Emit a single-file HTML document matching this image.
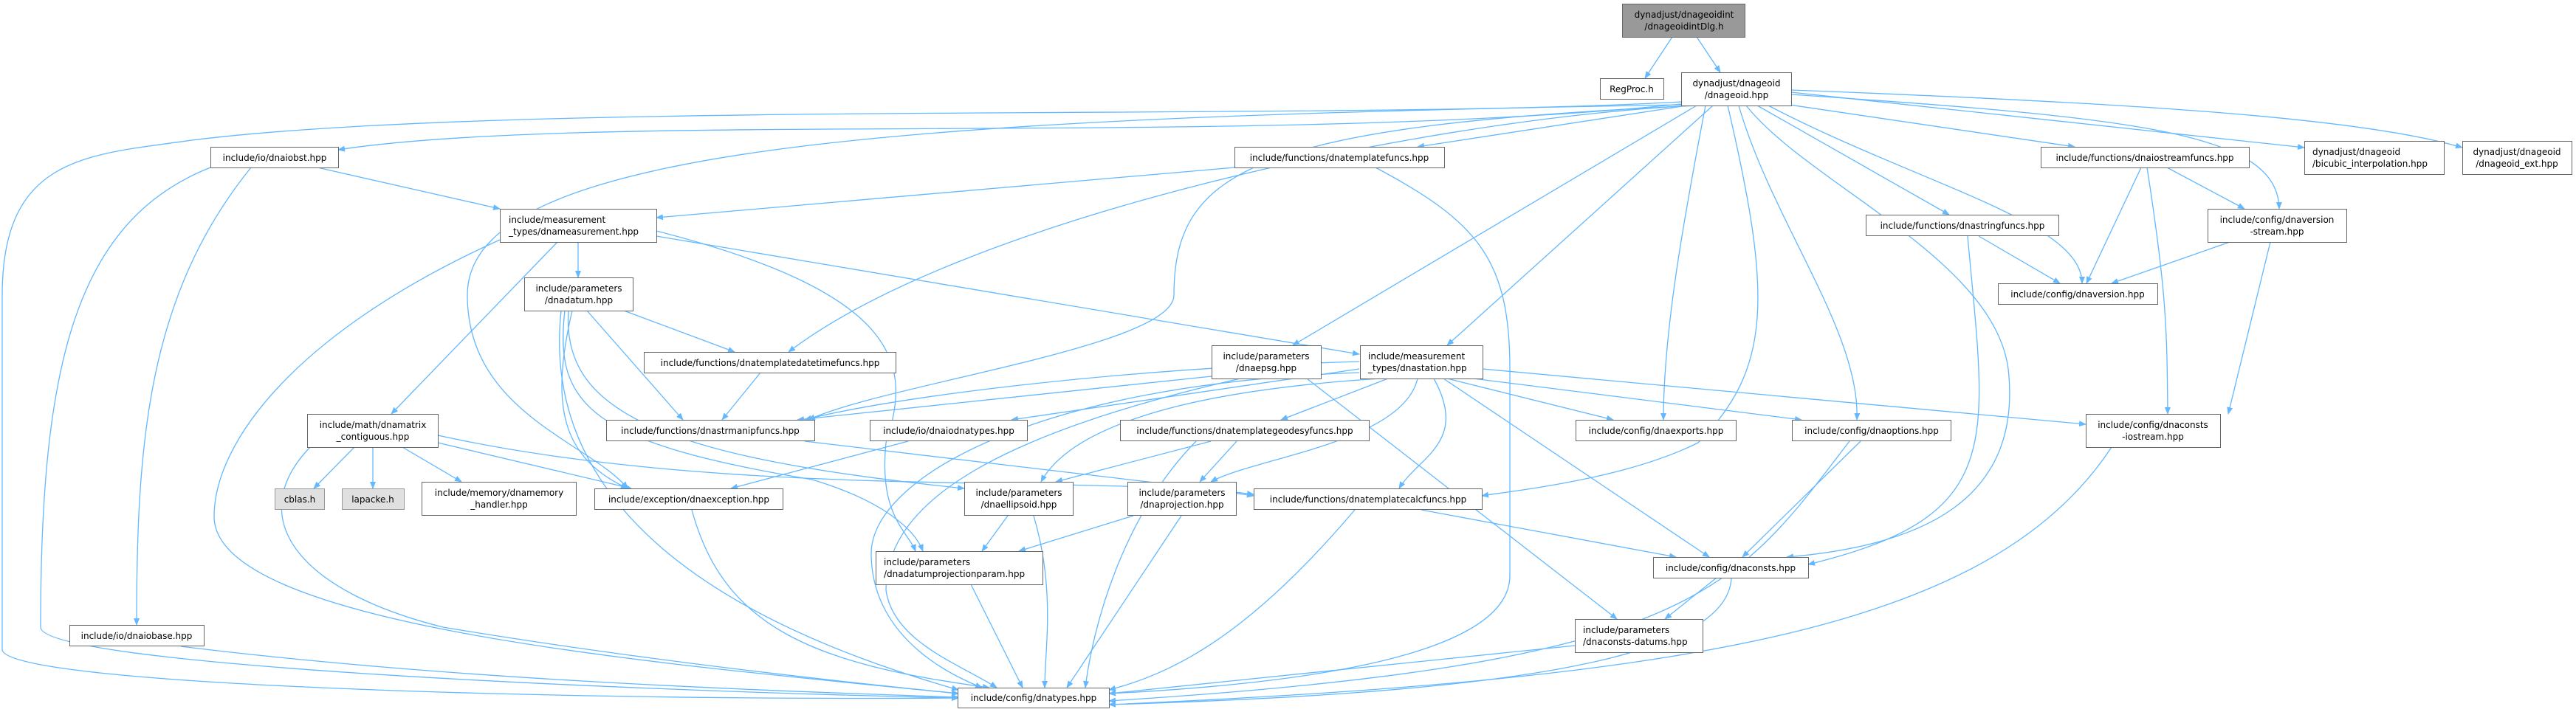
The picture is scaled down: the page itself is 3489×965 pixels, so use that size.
<!DOCTYPE html>
<html><head><meta charset="utf-8"><style>
html,body{margin:0;padding:0;background:#fff;}
svg{display:block;}
text{font-family:"DejaVu Sans","Liberation Sans",sans-serif;font-size:12px;fill:#000;}
.n{fill:#fff;stroke:#666;stroke-width:1;}
.g{fill:#999;stroke:#666;stroke-width:1;}
.x{fill:#e0e0e0;stroke:#999;stroke-width:1;}
path.e{fill:none;stroke:#63b8ff;stroke-width:1.3;marker-end:url(#a);}
</style></head><body>
<svg width="3489" height="965" viewBox="0 0 3489 965" xmlns="http://www.w3.org/2000/svg">
<defs><marker id="a" markerWidth="10" markerHeight="8" refX="9" refY="4" orient="auto" markerUnits="userSpaceOnUse"><path d="M0,0 L10,4 L0,8 z" fill="#63b8ff"/></marker></defs>
<g>
<path class="e" d="M2265,50 L2228,106"/>
<path class="e" d="M2298,50 L2330,98"/>
<path class="e" d="M2277,141 C1700,200 800,150 458,203"/>
<path class="e" d="M2277,138 C1800,165 700,135 260,190 C120,210 3,210 3,400 L3,880 C3,930 800,950 1298,946"/>
<path class="e" d="M2285,143 L1920,199"/>
<path class="e" d="M2290,143 C1900,165 1300,300 1068,477"/>
<path class="e" d="M2300,143 C1700,170 1590,230 1590,400 C1590,470 1200,520 1095,569"/>
<path class="e" d="M2298,143 L1751,468"/>
<path class="e" d="M2320,143 L1960,468"/>
<path class="e" d="M2277,142 C1200,160 633,200 633,400 C633,560 800,600 850,662"/>
<path class="e" d="M2310,143 C2280,300 2253,450 2253,569"/>
<path class="e" d="M2340,143 C2400,400 2400,500 2300,600 C2200,650 2050,665 2007,672"/>
<path class="e" d="M2355,143 C2400,300 2520,450 2515,569"/>
<path class="e" d="M2365,143 C2450,250 2700,350 2720,500 C2740,680 2600,740 2420,755"/>
<path class="e" d="M2380,143 L2640,291"/>
<path class="e" d="M2395,143 C2600,250 2820,300 2820,384"/>
<path class="e" d="M2410,140 L2810,199"/>
<path class="e" d="M2426,128 C2900,160 3085,180 3087,283"/>
<path class="e" d="M2426,125 L3121,200"/>
<path class="e" d="M2426,122 C2900,140 3200,160 3335,200"/>
<path class="e" d="M430,227 L677,283"/>
<path class="e" d="M340,227 C200,400 185,600 185,847"/>
<path class="e" d="M285,227 C100,300 55,500 55,850 C55,900 800,935 1298,946"/>
<path class="e" d="M1672,227 L889,295"/>
<path class="e" d="M1863,227 C2000,300 2045,350 2045,500 L2045,780 C2045,900 1700,930 1502,940"/>
<path class="e" d="M783,328 L783,376"/>
<path class="e" d="M755,328 L530,561"/>
<path class="e" d="M889,320 L1841,480"/>
<path class="e" d="M677,325 C400,450 290,600 290,700 C290,850 900,900 1298,940"/>
<path class="e" d="M889,313 C1230,400 1233,500 1200,600 C1190,700 1230,720 1240,747"/>
<path class="e" d="M845,421 L995,477"/>
<path class="e" d="M795,421 L925,569"/>
<path class="e" d="M775,421 C745,550 760,620 850,662"/>
<path class="e" d="M765,421 C750,550 800,600 1100,650 C1200,680 1240,720 1250,747"/>
<path class="e" d="M770,421 C760,560 900,620 1306,662"/>
<path class="e" d="M760,421 C730,700 1000,850 1298,935"/>
<path class="e" d="M1030,505 L978,569"/>
<path class="e" d="M480,606 L425,662"/>
<path class="e" d="M505,606 L505,662"/>
<path class="e" d="M545,606 L625,653"/>
<path class="e" d="M593,600 L855,662"/>
<path class="e" d="M593,590 C1000,680 1500,640 1698,672"/>
<path class="e" d="M420,606 C330,700 400,800 600,850 C900,900 1200,930 1298,940"/>
<path class="e" d="M1090,598 L1698,670"/>
<path class="e" d="M1230,598 L990,662"/>
<path class="e" d="M1641,510 L1080,569"/>
<path class="e" d="M1680,513 C1300,600 1200,700 1200,800 C1210,870 1300,900 1350,932"/>
<path class="e" d="M1770,513 L2190,839"/>
<path class="e" d="M1841,490 C1500,500 1200,540 1090,569"/>
<path class="e" d="M1841,500 L1370,569"/>
<path class="e" d="M1880,513 L1735,569"/>
<path class="e" d="M1870,513 C1600,530 1450,580 1410,653"/>
<path class="e" d="M1920,513 C1900,600 1700,620 1640,653"/>
<path class="e" d="M1942,513 C1990,600 1920,620 1895,662"/>
<path class="e" d="M1960,513 L2185,569"/>
<path class="e" d="M1995,513 L2440,569"/>
<path class="e" d="M2008,500 L2825,575"/>
<path class="e" d="M1955,513 L2315,755"/>
<path class="e" d="M1841,505 C1400,520 1180,650 1180,750 C1180,870 1300,920 1330,932"/>
<path class="e" d="M1640,598 L1430,653"/>
<path class="e" d="M1675,598 L1625,653"/>
<path class="e" d="M1620,598 C1520,700 1480,850 1470,932"/>
<path class="e" d="M1365,699 L1330,747"/>
<path class="e" d="M1400,699 C1430,800 1415,880 1415,932"/>
<path class="e" d="M1535,699 L1380,747"/>
<path class="e" d="M1600,699 L1445,932"/>
<path class="e" d="M1925,691 L2270,755"/>
<path class="e" d="M1835,691 C1700,850 1600,910 1502,935"/>
<path class="e" d="M1315,792 L1385,932"/>
<path class="e" d="M937,691 C980,850 1100,900 1340,932"/>
<path class="e" d="M245,876 C600,920 1000,935 1298,945"/>
<path class="e" d="M2325,783 L2255,839"/>
<path class="e" d="M2345,783 C2340,900 2000,940 1502,955"/>
<path class="e" d="M2133,875 L1502,940"/>
<path class="e" d="M2520,598 L2360,755"/>
<path class="e" d="M2505,598 C2350,800 2300,900 1502,950"/>
<path class="e" d="M2860,606 C2700,850 2300,920 1502,955"/>
<path class="e" d="M2900,227 L2826,384"/>
<path class="e" d="M2935,227 L3040,283"/>
<path class="e" d="M2908,227 C2935,400 2935,450 2936,561"/>
<path class="e" d="M3020,328 L2860,384"/>
<path class="e" d="M3075,328 L3018,561"/>
<path class="e" d="M2680,320 L2790,384"/>
<path class="e" d="M2665,320 C2690,600 2720,700 2449,765"/>
</g>
<g>
<rect class="g" x="2197.5" y="5.5" width="166" height="45"/><text x="2281" y="24" text-anchor="middle">dynadjust/dnageoidint</text><text x="2281" y="40" text-anchor="middle">/dnageoidintDlg.h</text>
<rect class="n" x="2167.5" y="106.5" width="86" height="28"/><text x="2210" y="125" text-anchor="middle">RegProc.h</text>
<rect class="n" x="2277.5" y="98.5" width="149" height="45"/><text x="2352" y="117" text-anchor="middle">dynadjust/dnageoid</text><text x="2352" y="133" text-anchor="middle">/dnageoid.hpp</text>
<rect class="n" x="285.5" y="199.5" width="173" height="28"/><text x="372" y="218" text-anchor="middle">include/io/dnaiobst.hpp</text>
<rect class="n" x="1672.5" y="199.5" width="284" height="28"/><text x="1814" y="218" text-anchor="middle">include/functions/dnatemplatefuncs.hpp</text>
<rect class="n" x="2764.5" y="199.5" width="282" height="28"/><text x="2905" y="218" text-anchor="middle">include/functions/dnaiostreamfuncs.hpp</text>
<rect class="n" x="3121.5" y="191.5" width="189" height="45"/><text x="3132" y="210">dynadjust/dnageoid</text><text x="3132" y="226">/bicubic_interpolation.hpp</text>
<rect class="n" x="3335.5" y="191.5" width="148" height="45"/><text x="3409" y="210" text-anchor="middle">dynadjust/dnageoid</text><text x="3409" y="226" text-anchor="middle">/dnageoid_ext.hpp</text>
<rect class="n" x="677.5" y="283.5" width="212" height="45"/><text x="689" y="302">include/measurement</text><text x="689" y="318">_types/dnameasurement.hpp</text>
<rect class="n" x="2527.5" y="291.5" width="261" height="28"/><text x="2658" y="310" text-anchor="middle">include/functions/dnastringfuncs.hpp</text>
<rect class="n" x="2990.5" y="283.5" width="188" height="45"/><text x="3084" y="302" text-anchor="middle">include/config/dnaversion</text><text x="3084" y="318" text-anchor="middle">-stream.hpp</text>
<rect class="n" x="710.5" y="376.5" width="147" height="45"/><text x="784" y="395" text-anchor="middle">include/parameters</text><text x="784" y="411" text-anchor="middle">/dnadatum.hpp</text>
<rect class="n" x="2706.5" y="384.5" width="216" height="28"/><text x="2814" y="403" text-anchor="middle">include/config/dnaversion.hpp</text>
<rect class="n" x="872.5" y="477.5" width="341" height="28"/><text x="1043" y="496" text-anchor="middle">include/functions/dnatemplatedatetimefuncs.hpp</text>
<rect class="n" x="1641.5" y="468.5" width="148" height="45"/><text x="1715" y="487" text-anchor="middle">include/parameters</text><text x="1715" y="503" text-anchor="middle">/dnaepsg.hpp</text>
<rect class="n" x="1842.5" y="468.5" width="166" height="45"/><text x="1853" y="487">include/measurement</text><text x="1853" y="503">_types/dnastation.hpp</text>
<rect class="n" x="416.5" y="561.5" width="177" height="45"/><text x="505" y="580" text-anchor="middle">include/math/dnamatrix</text><text x="505" y="596" text-anchor="middle">_contiguous.hpp</text>
<rect class="n" x="821.5" y="569.5" width="282" height="28"/><text x="962" y="588" text-anchor="middle">include/functions/dnastrmanipfuncs.hpp</text>
<rect class="n" x="1178.5" y="569.5" width="213" height="28"/><text x="1285" y="588" text-anchor="middle">include/io/dnaiodnatypes.hpp</text>
<rect class="n" x="1517.5" y="569.5" width="337" height="28"/><text x="1686" y="588" text-anchor="middle">include/functions/dnatemplategeodesyfuncs.hpp</text>
<rect class="n" x="2134.5" y="569.5" width="217" height="28"/><text x="2243" y="588" text-anchor="middle">include/config/dnaexports.hpp</text>
<rect class="n" x="2427.5" y="569.5" width="215" height="28"/><text x="2535" y="588" text-anchor="middle">include/config/dnaoptions.hpp</text>
<rect class="n" x="2825.5" y="561.5" width="182" height="45"/><text x="2916" y="580" text-anchor="middle">include/config/dnaconsts</text><text x="2916" y="596" text-anchor="middle">-iostream.hpp</text>
<rect class="x" x="372.5" y="662.5" width="67" height="28"/><text x="406" y="681" text-anchor="middle">cblas.h</text>
<rect class="x" x="463.5" y="662.5" width="84" height="28"/><text x="505" y="681" text-anchor="middle">lapacke.h</text>
<rect class="n" x="571.5" y="653.5" width="209" height="45"/><text x="676" y="672" text-anchor="middle">include/memory/dnamemory</text><text x="676" y="688" text-anchor="middle">_handler.hpp</text>
<rect class="n" x="805.5" y="662.5" width="255" height="28"/><text x="933" y="681" text-anchor="middle">include/exception/dnaexception.hpp</text>
<rect class="n" x="1306.5" y="653.5" width="147" height="45"/><text x="1380" y="672" text-anchor="middle">include/parameters</text><text x="1380" y="688" text-anchor="middle">/dnaellipsoid.hpp</text>
<rect class="n" x="1527.5" y="653.5" width="147" height="45"/><text x="1601" y="672" text-anchor="middle">include/parameters</text><text x="1601" y="688" text-anchor="middle">/dnaprojection.hpp</text>
<rect class="n" x="1698.5" y="662.5" width="309" height="28"/><text x="1853" y="681" text-anchor="middle">include/functions/dnatemplatecalcfuncs.hpp</text>
<rect class="n" x="1186.5" y="747.5" width="226" height="45"/><text x="1197" y="766">include/parameters</text><text x="1197" y="782">/dnadatumprojectionparam.hpp</text>
<rect class="n" x="2239.5" y="755.5" width="210" height="28"/><text x="2344" y="774" text-anchor="middle">include/config/dnaconsts.hpp</text>
<rect class="n" x="2133.5" y="839.5" width="173" height="45"/><text x="2144" y="858">include/parameters</text><text x="2144" y="874">/dnaconsts-datums.hpp</text>
<rect class="n" x="94.5" y="847.5" width="182" height="28"/><text x="185" y="866" text-anchor="middle">include/io/dnaiobase.hpp</text>
<rect class="n" x="1297.5" y="932.5" width="205" height="27"/><text x="1400" y="950" text-anchor="middle">include/config/dnatypes.hpp</text>
</g>
</svg>
</body></html>
